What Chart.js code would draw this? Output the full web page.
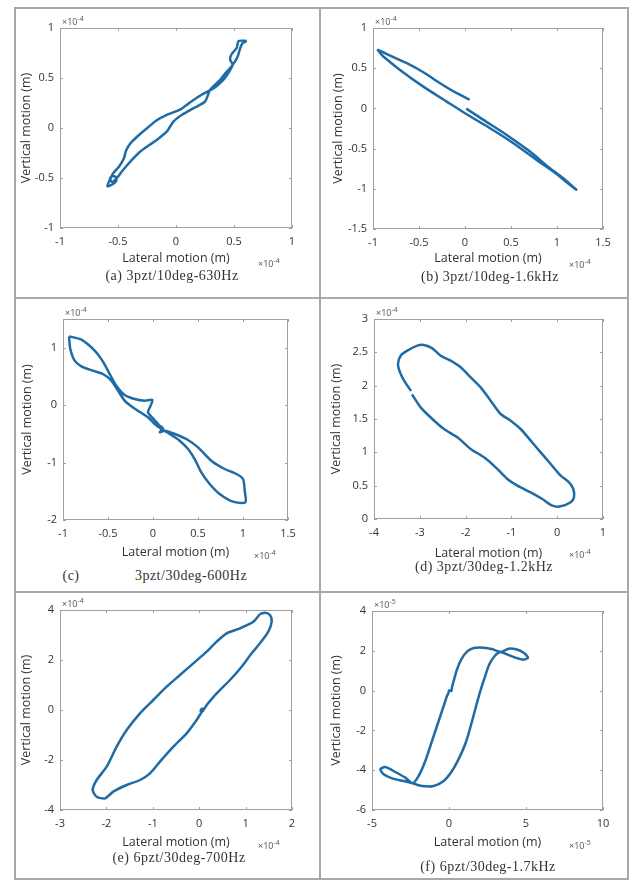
<!DOCTYPE html>
<html>
<head>
<meta charset="utf-8">
<script src="https://cdn.jsdelivr.net/npm/chart.js@4.4.1/dist/chart.umd.min.js"></script>
<style>
  html, body { margin: 0; padding: 0; background: #fff; }
  #page { position: relative; width: 639px; height: 882px; overflow: hidden; }
  .rule { position: absolute; background: #a8a8a8; }
  .plot { position: absolute; }
  .cap { position: absolute; font-family: "Liberation Serif", serif; font-size: 14px; letter-spacing: 0.5px;
         color: #333; white-space: nowrap; transform: translate(-50%, -50%); }
</style>
</head>
<body>
<div id="page">
  <!-- table rules -->
  <div class="rule" style="left:14px;top:7px;width:615px;height:2px"></div>
  <div class="rule" style="left:14px;top:297px;width:615px;height:2px"></div>
  <div class="rule" style="left:14px;top:591px;width:615px;height:2px"></div>
  <div class="rule" style="left:14px;top:878px;width:615px;height:2px"></div>
  <div class="rule" style="left:14px;top:7px;width:2px;height:873px"></div>
  <div class="rule" style="left:319px;top:7px;width:2px;height:873px"></div>
  <div class="rule" style="left:627px;top:7px;width:2px;height:873px"></div>

  <div class="plot" id="boxA"><canvas id="chartA"></canvas></div>
  <div class="plot" id="boxB"><canvas id="chartB"></canvas></div>
  <div class="plot" id="boxC"><canvas id="chartC"></canvas></div>
  <div class="plot" id="boxD"><canvas id="chartD"></canvas></div>
  <div class="plot" id="boxE"><canvas id="chartE"></canvas></div>
  <div class="plot" id="boxF"><canvas id="chartF"></canvas></div>

  <div class="cap" style="left:172px;top:276px">(a) 3pzt/10deg-630Hz</div>
  <div class="cap" style="left:490px;top:277px">(b) 3pzt/10deg-1.6kHz</div>
  <div class="cap" style="left:71px;top:576px">(c)</div>
  <div class="cap" style="left:191px;top:576px">3pzt/30deg-600Hz</div>
  <div class="cap" style="left:484px;top:567px">(d) 3pzt/30deg-1.2kHz</div>
  <div class="cap" style="left:179px;top:858px">(e) 6pzt/30deg-700Hz</div>
  <div class="cap" style="left:488px;top:867px">(f) 6pzt/30deg-1.7kHz</div>
</div>

<script>
// ----------------------------------------------------
// Data (lateral / vertical motion, in units of the axis multiplier)
// ----------------------------------------------------
// (a) 3pzt/10deg-630Hz, x1e-4
const aLateral = [0.61, 0.54, 0.523, 0.48, 0.466, 0.489, 0.451, 0.402, 0.328, 0.221, 0.126, 0.034, -0.075, -0.172,
  -0.247, -0.322, -0.391, -0.431, -0.448, -0.489, -0.54, -0.569, -0.592, -0.55, -0.515, -0.52, -0.55, -0.57, -0.55,
  -0.51, -0.47, -0.42, -0.368, -0.31, -0.23, -0.167, -0.08, -0.023, 0.049, 0.149, 0.25, 0.293, 0.379, 0.422,
  0.48, 0.529, 0.552, 0.575, 0.61];
const aVertical = [0.87, 0.87, 0.80, 0.74, 0.683, 0.633, 0.55, 0.473, 0.40, 0.333, 0.26, 0.183, 0.133, 0.073,
  0.0, -0.073, -0.15, -0.227, -0.30, -0.383, -0.45, -0.517, -0.583, -0.565, -0.53, -0.49, -0.48, -0.51, -0.54,
  -0.50, -0.44, -0.37, -0.303, -0.237, -0.17, -0.12, -0.037, 0.063, 0.13, 0.197, 0.263, 0.38, 0.48, 0.543,
  0.617, 0.707, 0.793, 0.85, 0.87];

// (b) 3pzt/10deg-1.6kHz, x1e-4
const bLateral = [0.051, -0.094, -0.275, -0.457, -0.638, -0.819, -0.946, -0.93, -0.891, -0.710, -0.457, -0.203,
  0.014, 0.268, 0.522, 0.775, 0.957, 1.101, 1.21, 1.17, 1.065, 0.920, 0.703, 0.449, 0.196, 0.014];
const bVertical = [0.109, 0.192, 0.316, 0.453, 0.565, 0.66, 0.726, 0.70, 0.648, 0.482, 0.274, 0.088,
  -0.07, -0.244, -0.43, -0.638, -0.783, -0.915, -1.011, -0.97, -0.866, -0.741, -0.534, -0.327, -0.14, -0.003];

// (c) 3pzt/30deg-600Hz, x1e-4
const cLateral = [-0.933, -0.796, -0.648, -0.556, -0.481, -0.407, -0.315, -0.204, -0.093, -0.007, -0.030, -0.056,
  0.0, 0.067, 0.111, 0.074, 0.130, 0.241, 0.370, 0.5, 0.648, 0.796, 0.926, 1.0, 1.019, 1.026, 0.889, 0.741,
  0.630, 0.537, 0.463, 0.389, 0.296, 0.185, 0.093, 0.019, -0.056, -0.141, -0.241, -0.315, -0.389, -0.463,
  -0.556, -0.667, -0.796, -0.870, -0.919, -0.933];
const cVertical = [1.198, 1.140, 0.949, 0.757, 0.542, 0.339, 0.177, 0.107, 0.078, 0.090, -0.021, -0.125,
  -0.230, -0.346, -0.404, -0.473, -0.444, -0.502, -0.590, -0.735, -0.967, -1.112, -1.199, -1.286, -1.489,
  -1.692, -1.681, -1.547, -1.373, -1.170, -0.938, -0.764, -0.619, -0.502, -0.415, -0.328, -0.212, -0.125,
  -0.021, 0.078, 0.252, 0.426, 0.542, 0.600, 0.676, 0.774, 0.978, 1.198];

// (d) 3pzt/30deg-1.2kHz, x1e-4
const dLateral = [-3.17, -2.981, -2.726, -2.472, -2.180, -1.889, -1.598, -1.344, -1.089, -0.870, -0.579, -0.325,
  -0.106, 0.076, 0.294, 0.367, 0.352, 0.258, 0.076, -0.143, -0.361, -0.579, -0.798, -1.016, -1.234, -1.453,
  -1.671, -1.889, -2.108, -2.326, -2.544, -2.726, -2.908, -3.054, -3.272, -3.418, -3.476, -3.432, -3.330, -3.19];
const dVertical = [1.87, 1.675, 1.50, 1.35, 1.225, 1.05, 0.925, 0.775, 0.60, 0.50, 0.40, 0.30,
  0.20, 0.19, 0.25, 0.325, 0.45, 0.55, 0.65, 0.825, 1.0, 1.175, 1.35, 1.475, 1.575, 1.775,
  1.975, 2.125, 2.275, 2.375, 2.45, 2.56, 2.61, 2.60, 2.525, 2.45, 2.325, 2.20, 2.06, 1.92];

// (e) 6pzt/30deg-700Hz, x1e-4
const eLateral = [1.310, 1.167, 0.879, 0.592, 0.376, 0.161, -0.126, -0.414, -0.701, -0.989, -1.276, -1.563,
  -1.779, -1.994, -2.210, -2.296, -2.210, -2.030, -1.851, -1.563, -1.276, -1.060, -0.845, -0.557, -0.270,
  -0.055, 0.04, 0.10, 0.06, 0.03, 0.12, 0.161, 0.376, 0.664, 0.915, 1.131, 1.310, 1.490, 1.562, 1.526,
  1.418, 1.310];
const eVertical = [3.84, 3.533, 3.267, 3.067, 2.733, 2.333, 1.867, 1.40, 0.933, 0.40, -0.133, -0.80,
  -1.467, -2.267, -2.80, -3.20, -3.467, -3.533, -3.267, -3.0, -2.80, -2.533, -2.067, -1.467, -0.933,
  -0.40, -0.12, 0.02, 0.05, -0.03, 0.08, 0.20, 0.667, 1.20, 1.733, 2.267, 2.667, 3.133, 3.533, 3.80,
  3.893, 3.84];

// (f) 6pzt/30deg-1.7kHz, x1e-5
const fLateral = [-0.022, 0.0, 0.152, 0.195, 0.303, 0.519, 0.801, 1.169, 1.602, 2.251, 2.836, 3.333, 3.874,
  4.351, 4.848, 5.130, 4.848, 4.307, 3.766, 3.333, 2.965, 2.619, 2.316, 1.970, 1.558, 1.126, 0.671, 0.195,
  -0.346, -0.996, -1.753, -2.359, -2.944, -3.701, -4.242, -4.459, -4.134, -3.485, -2.835, -2.359, -1.970,
  -1.537, -1.104, -0.671, -0.346, -0.130, -0.022];
const fVertical = [-0.104, 0.01, -0.02, 0.18, 0.482, 1.069, 1.571, 1.957, 2.141, 2.158, 2.074, 1.940, 2.107,
  2.074, 1.906, 1.655, 1.555, 1.655, 1.823, 1.940, 1.739, 1.320, 0.650, -0.188, -1.360, -2.533, -3.370, -4.040,
  -4.543, -4.794, -4.794, -4.660, -4.543, -4.409, -4.208, -3.956, -3.839, -4.090, -4.375, -4.660, -4.291,
  -3.538, -2.533, -1.528, -0.774, -0.271, -0.104];

// tick values
const ticksA_x = [-1, -0.5, 0, 0.5, 1];
const ticksA_y = [-1, -0.5, 0, 0.5, 1];
const ticksB_x = [-1, -0.5, 0, 0.5, 1, 1.5];
const ticksB_y = [-1.5, -1, -0.5, 0, 0.5, 1];
const ticksC_x = [-1, -0.5, 0, 0.5, 1, 1.5];
const ticksC_y = [-2, -1, 0, 1];
const ticksD_x = [-4, -3, -2, -1, 0, 1];
const ticksD_y = [0, 0.5, 1, 1.5, 2, 2.5, 3];
const ticksE_x = [-3, -2, -1, 0, 1, 2];
const ticksE_y = [-4, -2, 0, 2, 4];
const ticksF_x = [-5, 0, 5, 10];
const ticksF_y = [-6, -4, -2, 0, 2, 4];

// ----------------------------------------------------
// Shared styling
// ----------------------------------------------------
const FONT = '"Open Sans", sans-serif';
const LINE_COLOR = '#1f6ba6';
const TEXT_COLOR = '#333';

// draws the MATLAB-like box, inward ticks and the x10^n multipliers
const matlabBox = {
  id: 'matlabBox',
  afterDatasetsDraw(chart, args, opts) {
    const { ctx, chartArea: a, scales } = chart;
    ctx.save();
    ctx.strokeStyle = '#a0a0a0';
    ctx.lineWidth = 1;
    ctx.strokeRect(a.left + 0.5, a.top + 0.5, a.width - 1, a.height - 1);
    ctx.beginPath();
    scales.x.ticks.forEach(t => {
      const px = Math.round(scales.x.getPixelForValue(t.value)) + 0.5;
      ctx.moveTo(px, a.bottom); ctx.lineTo(px, a.bottom - 3);
      ctx.moveTo(px, a.top); ctx.lineTo(px, a.top + 3);
    });
    scales.y.ticks.forEach(t => {
      const py = Math.round(scales.y.getPixelForValue(t.value)) + 0.5;
      ctx.moveTo(a.left, py); ctx.lineTo(a.left + 3, py);
      ctx.moveTo(a.right, py); ctx.lineTo(a.right - 3, py);
    });
    ctx.stroke();

    const drawExp = (x, y) => {
      ctx.fillStyle = '#555';
      ctx.textBaseline = 'alphabetic';
      ctx.textAlign = 'left';
      ctx.font = '9px ' + FONT;
      ctx.fillText('\u00d710', x, y);
      const w = ctx.measureText('\u00d710').width;
      ctx.font = '7px ' + FONT;
      ctx.fillText(opts.exp, x + w, y - 4);
    };
    drawExp(a.left + 2, a.top - 3);
    drawExp(a.right - 34, a.bottom + 39);
    ctx.restore();
  }
};

function makePlot(boxId, canvasId, xs, ys, xTicks, yTicks, geo, exp) {
  const [pl, pt, pr, pb] = geo.plot;
  const L = geo.yTitleX - 8;
  const T = pt - 24;
  const R = pr + 30;
  const B = pb + 46;
  const xTitleBottom = geo.xTitleY + 8;

  const box = document.getElementById(boxId);
  box.style.left = L + 'px';
  box.style.top = T + 'px';
  box.style.width = (R - L) + 'px';
  box.style.height = (B - T) + 'px';

  const points = xs.map((x, i) => ({ x: x, y: ys[i] }));

  new Chart(document.getElementById(canvasId), {
    type: 'scatter',
    data: {
      datasets: [{
        data: points,
        showLine: true,
        borderColor: LINE_COLOR,
        borderWidth: 2.5,
        pointRadius: 0,
        tension: 0.25,
        fill: false
      }]
    },
    options: {
      responsive: true,
      maintainAspectRatio: false,
      animation: false,
      layout: { padding: { left: 0, top: 24, right: 30, bottom: B - xTitleBottom } },
      plugins: {
        legend: { display: false },
        tooltip: { enabled: false },
        matlabBox: { exp: exp }
      },
      scales: {
        x: {
          type: 'linear',
          min: xTicks[0],
          max: xTicks[xTicks.length - 1],
          afterBuildTicks: s => { s.ticks = xTicks.map(v => ({ value: v })); },
          afterFit: s => { s.height = xTitleBottom - pb; },
          grid: { display: false, drawTicks: false },
          border: { display: false },
          ticks: {
            color: TEXT_COLOR, padding: 7, maxRotation: 0, autoSkip: false,
            font: { family: FONT, size: 11 },
            callback: v => String(v)
          },
          title: {
            display: true, text: 'Lateral motion (m)', color: TEXT_COLOR, padding: 0,
            font: { family: FONT, size: 12.5 }
          }
        },
        y: {
          type: 'linear',
          min: geo.yMin !== undefined ? geo.yMin : yTicks[0],
          max: geo.yMax !== undefined ? geo.yMax : yTicks[yTicks.length - 1],
          afterBuildTicks: s => { s.ticks = yTicks.map(v => ({ value: v })); },
          afterFit: s => { s.width = pl - L; },
          grid: { display: false, drawTicks: false },
          border: { display: false },
          ticks: {
            color: TEXT_COLOR, padding: 6, autoSkip: false,
            font: { family: FONT, size: 11 },
            callback: v => String(v)
          },
          title: {
            display: true, text: 'Vertical motion (m)', color: TEXT_COLOR, padding: 0,
            font: { family: FONT, size: 12.5 }
          }
        }
      }
    },
    plugins: [matlabBox]
  });
}

makePlot('boxA', 'chartA', aLateral, aVertical, ticksA_x, ticksA_y,
  { plot: [60, 28, 292, 228], yTitleX: 27, xTitleY: 258 }, '-4');
makePlot('boxB', 'chartB', bLateral, bVertical, ticksB_x, ticksB_y,
  { plot: [373, 28, 603, 229], yTitleX: 339, xTitleY: 258 }, '-4');
makePlot('boxC', 'chartC', cLateral, cVertical, ticksC_x, ticksC_y,
  { plot: [63, 319, 288, 520], yTitleX: 28, xTitleY: 552, yMin: -2, yMax: 1.5 }, '-4');
makePlot('boxD', 'chartD', dLateral, dVertical, ticksD_x, ticksD_y,
  { plot: [374, 319, 603, 519], yTitleX: 337, xTitleY: 553 }, '-4');
makePlot('boxE', 'chartE', eLateral, eVertical, ticksE_x, ticksE_y,
  { plot: [60, 610, 292, 810], yTitleX: 27, xTitleY: 842 }, '-4');
makePlot('boxF', 'chartF', fLateral, fVertical, ticksF_x, ticksF_y,
  { plot: [372, 611, 603, 810], yTitleX: 337, xTitleY: 842 }, '-5');
</script>
</body>
</html>
